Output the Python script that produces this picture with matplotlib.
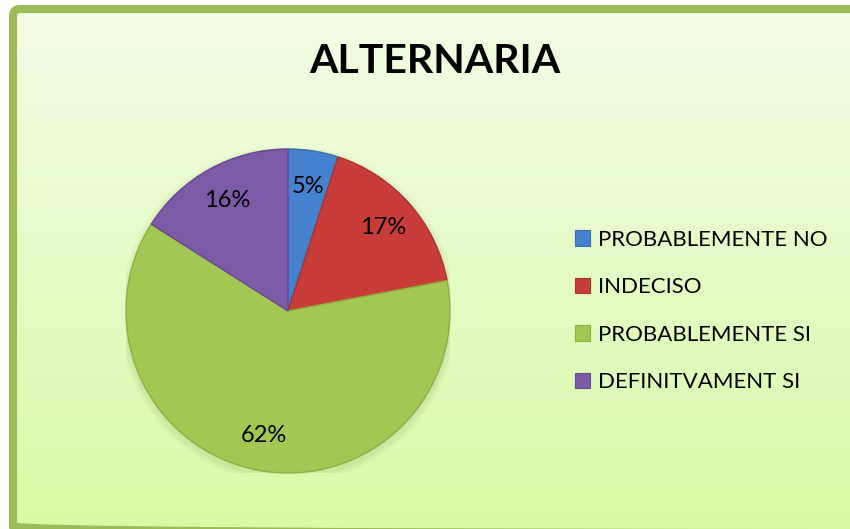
import numpy as np
import matplotlib
matplotlib.use('Agg')
import matplotlib.pyplot as plt
from matplotlib.patches import FancyBboxPatch, Patch, Wedge

labels = ['PROBABLEMENTE NO', 'INDECISO', 'PROBABLEMENTE SI', 'DEFINITVAMENT SI']
values = [5, 17, 62, 16]
colors = ['#4681D0', '#C83D39', '#A2C752', '#7C5AA6']
edge_colors = ['#3A6DB5', '#A83330', '#8DB041', '#684A90']

plt.rcParams['font.family'] = ['Lato', 'DejaVu Sans']

fig = plt.figure(figsize=(8.5, 5.29), dpi=100)

# background panel with gradient and green rounded border
bg = fig.add_axes([0, 0, 1, 1])
bg.set_xlim(0, 850)
bg.set_ylim(529, 0)
bg.axis('off')
top = np.array([243, 253, 229]) / 255
bot = np.array([216, 250, 166]) / 255
t = np.linspace(0, 1, 256)[:, None]
grad = (top[None, :] * (1 - t) + bot[None, :] * t)[:, None, :]
im = bg.imshow(grad, extent=(13, 880, 533, 9), aspect='auto', zorder=0)
border = FancyBboxPatch((13, 9), 867, 524, boxstyle='round,pad=0,rounding_size=7',
                        fc='none', ec='#9BBB59', lw=5.8, zorder=2)
bg.add_patch(border)
im.set_clip_path(border)

fig.text(0.511, 0.883, 'ALTERNARIA', ha='center', va='center',
         fontsize=29.5, fontweight='bold', color='black')

ax = fig.add_axes([0.1482, 0.1059, 0.3812, 0.6125])
ax.axis('off')

# soft shadow
for i, a in enumerate([0.05, 0.04, 0.03]):
    ax.add_patch(Wedge((0.0, -0.02), 1.0 + 0.015 * (i + 1), 0, 360,
                       fc='#556b2f', ec='none', alpha=a, zorder=0))

wedges, texts, autotexts = ax.pie(values, colors=colors, startangle=90, counterclock=False,
                                  radius=1.0, autopct='%1.0f%%', pctdistance=0.78,
                                  wedgeprops=dict(linewidth=1.0),
                                  textprops=dict(fontsize=17, color='black'))
for w, ec in zip(wedges, edge_colors):
    w.set_edgecolor(ec)

ax.set_xlim(-1, 1)
ax.set_ylim(-1, 1)
ax.set_aspect('equal')

handles = [Patch(fc=c, ec=e, lw=0.8) for c, e in zip(colors, edge_colors)]
fig.legend(handles, labels, loc='center left', bbox_to_anchor=(0.663, 0.412),
           frameon=False, fontsize=16, handlelength=0.7, handleheight=0.7,
           handletextpad=0.35, labelspacing=1.24, borderpad=0)

fig.savefig('out.png', dpi=100)
